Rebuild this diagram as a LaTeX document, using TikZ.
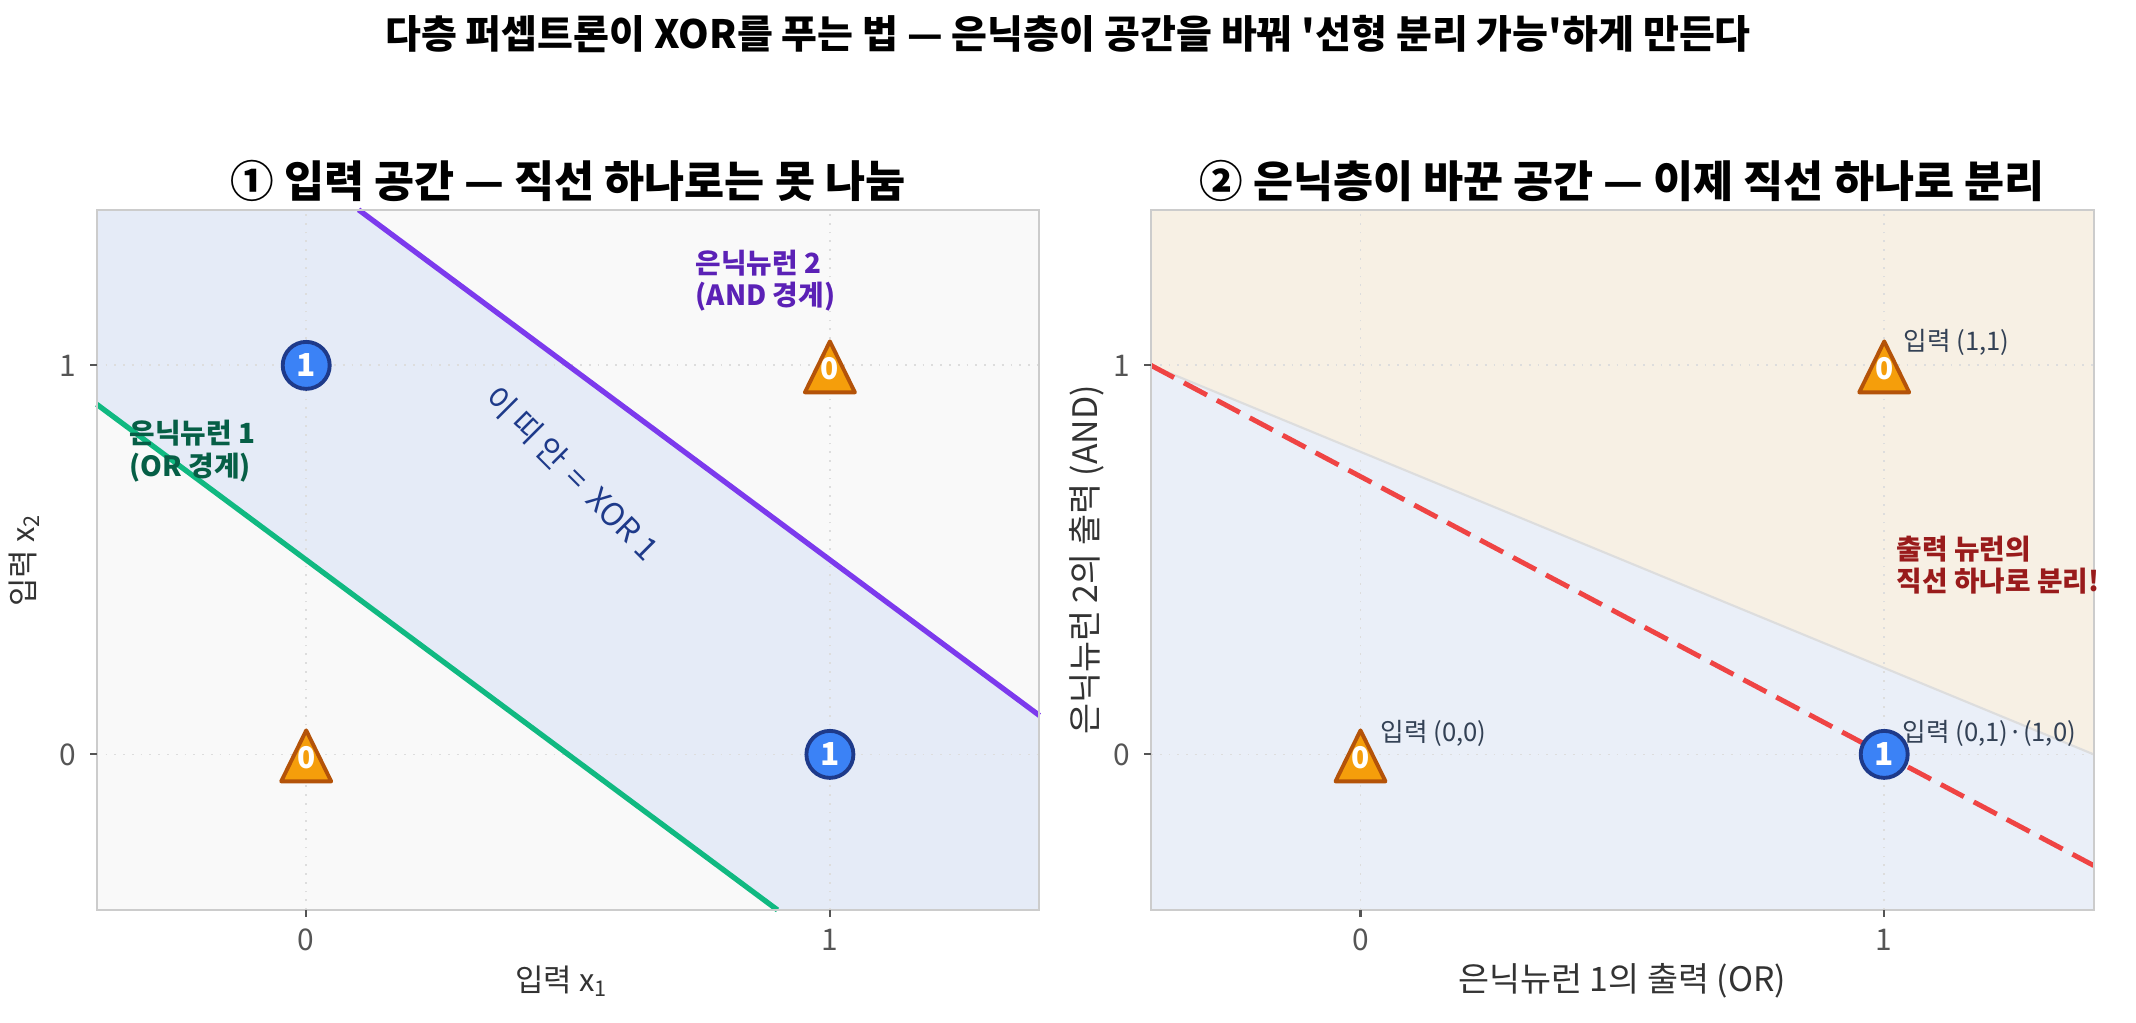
\documentclass[tikz,border=0pt]{standalone}
\usepackage{fontspec}
\setmainfont{Noto Sans CJK KR}[Ligatures=TeXOff]
\usetikzlibrary{calc}
\definecolor{bggray}{HTML}{F9F9F9}
\definecolor{bandblue}{HTML}{E5EBF7}
\definecolor{beige}{HTML}{F7F0E4}
\definecolor{lowblue}{HTML}{EAEFF8}
\definecolor{purpleline}{HTML}{7C3AED}
\definecolor{greenline}{HTML}{10B981}
\definecolor{greentext}{HTML}{065F46}
\definecolor{purpletext}{HTML}{5B21B6}
\definecolor{xortext}{HTML}{1E3A8A}
\definecolor{redline}{HTML}{EF4444}
\definecolor{redtext}{HTML}{991B1B}
\definecolor{cfill}{HTML}{3B82F6}
\definecolor{cstroke}{HTML}{1E3A8A}
\definecolor{tfill}{HTML}{F59E0B}
\definecolor{tstroke}{HTML}{B45309}
\definecolor{framegray}{HTML}{CCCCCC}
\definecolor{gridgray}{HTML}{DDDDDD}
\definecolor{ticktext}{HTML}{555555}
\definecolor{labeltext}{HTML}{333333}
\definecolor{ptlabtext}{HTML}{334155}
\tikzset{
  gridline/.style={gridgray, line width=0.5pt, dotted},
  frameline/.style={framegray, line width=0.6pt},
  tickmark/.style={ticktext, line width=0.6pt},
  ticklab/.style={ticktext, font=\fontsize{8.5}{9}\selectfont, inner sep=0pt},
  axlab/.style={labeltext, font=\fontsize{9.6}{11}\selectfont, inner sep=0pt},
  axlabs/.style={labeltext, font=\fontsize{8.8}{10}\selectfont, inner sep=0pt},
  ptitle/.style={font=\fontsize{12.4}{14}\selectfont\bfseries, inner sep=0pt},
  orline/.style={greenline, line width=1.5pt},
  andline/.style={purpleline, line width=1.5pt},
  sepline/.style={redline, line width=1.4pt, dash pattern=on 7.4pt off 3.2pt},
  one/.style={circle, fill=cfill, draw=cstroke, line width=1.1pt, minimum size=0.47cm, inner sep=0pt,
    text=white, font=\fontsize{9}{10}\selectfont\bfseries},
  zero/.style={inner sep=0pt, text=white, font=\fontsize{8.5}{10}\selectfont\bfseries, yshift=-0.03cm},
  tri/.pic={\draw[fill=tfill, draw=tstroke, line width=1.1pt, line join=round]
      (0cm,0.24cm) -- (0.25cm,-0.27cm) -- (-0.25cm,-0.27cm) -- cycle;},
  annot/.style={font=\fontsize{7.9}{9.2}\selectfont\bfseries, align=left, anchor=west, inner sep=0pt},
  ptlab/.style={ptlabtext, font=\fontsize{7.3}{9}\selectfont, anchor=west, inner sep=0pt},
}
\begin{document}
\begin{tikzpicture}
\useasboundingbox[fill=white] (0,0) rectangle (21.36,10.23);

\node[font=\fontsize{11.1}{13}\selectfont\bfseries, inner sep=0pt] (title) at (10.68,9.89)
  {다층 퍼셉트론이 XOR를 푸는 법 — 은닉층이 공간을 바꿔 '선형 분리 가능'하게 만든다};

% ---------------- Left panel ----------------
\begin{scope}[shift={(3.062,2.686)}, x=5.237cm, y=3.89cm]
  \fill[bggray] (-0.4,-0.4) rectangle (1.4,1.4);
  \fill[bandblue] (-0.4,0.9) -- (0.9,-0.4) -- (1.4,-0.4) -- (1.4,0.1) -- (0.1,1.4) -- (-0.4,1.4) -- cycle;
  \foreach \v in {0,1} {
    \draw[gridline] (\v,-0.4) -- (\v,1.4);
    \draw[gridline] (-0.4,\v) -- (1.4,\v);
  }
  \coordinate (g1) at (-0.4,0.9);
  \coordinate (g2) at (0.9,-0.4);
  \coordinate (p1) at (0.1,1.4);
  \coordinate (p2) at (1.4,0.1);
  \draw[orline] (g1) -- (g2);
  \draw[andline] (p1) -- (p2);
  \draw[frameline] (-0.4,-0.4) rectangle (1.4,1.4);
  \foreach \v in {0,1} {
    \draw[tickmark] (\v,-0.4) -- ++(0cm,-0.07cm);
    \draw[tickmark] (-0.4,\v) -- ++(-0.07cm,0cm);
    \node[ticklab] (lxt\v) at ($(\v,-0.4)+(0cm,-0.30cm)$) {\v};
    \node[ticklab] (lyt\v) at ($(-0.4,\v)+(-0.29cm,0cm)$) {\v};
  }
  \pic at (0,0) {tri};
  \node[zero] (a00) at (0,0) {0};
  \pic at (1,1) {tri};
  \node[zero] (a11) at (1,1) {0};
  \node[one] (a01) at (0,1) {1};
  \node[one] (a10) at (1,0) {1};
\end{scope}

\node[ptitle] (t1) at (5.68,8.42) {① 입력 공간 — 직선 하나로는 못 나눔};
\node[axlabs] (xl1) at (5.62,0.42) {입력 x\textsubscript{1}};
\node[axlabs, rotate=90] (yl1) at (0.245,4.63) {입력 x\textsubscript{2}};
\node[annot, text=greentext] (orlab) at (1.29,5.72) {은닉뉴런 1\\(OR 경계)};
\node[annot, text=purpletext] (andlab) at (6.95,7.42) {은닉뉴런 2\\(AND 경계)};
\node[xortext, font=\fontsize{9}{10}\selectfont, rotate=-45, inner sep=0pt] (xorlab) at (5.72,5.50) {이 띠 안 \,=\, XOR 1};

% ---------------- Right panel ----------------
\begin{scope}[shift={(13.605,2.686)}, x=5.237cm, y=3.89cm]
  \fill[beige] (-0.4,1.0) -- (1.4,0) -- (1.4,1.4) -- (-0.4,1.4) -- cycle;
  \fill[lowblue] (-0.4,-0.4) -- (1.4,-0.4) -- (1.4,0) -- (-0.4,1.0) -- cycle;
  \coordinate (b1) at (-0.4,1.0);
  \coordinate (b2) at (1.4,0);
  \draw[gridgray, line width=0.6pt] (b1) -- (b2);
  \foreach \v in {0,1} {
    \draw[gridline] (\v,-0.4) -- (\v,1.4);
    \draw[gridline] (-0.4,\v) -- (1.4,\v);
  }
  \coordinate (r1) at (-0.4,1.0);
  \coordinate (r2) at (1.4,-0.2857);
  \draw[sepline] (r1) -- (r2);
  \draw[frameline] (-0.4,-0.4) rectangle (1.4,1.4);
  \foreach \v in {0,1} {
    \draw[tickmark] (\v,-0.4) -- ++(0cm,-0.07cm);
    \draw[tickmark] (-0.4,\v) -- ++(-0.07cm,0cm);
    \node[ticklab] (rxt\v) at ($(\v,-0.4)+(0cm,-0.30cm)$) {\v};
    \node[ticklab] (ryt\v) at ($(-0.4,\v)+(-0.29cm,0cm)$) {\v};
  }
  \pic at (0,0) {tri};
  \node[zero] (h00) at (0,0) {0};
  \pic at (1,1) {tri};
  \node[zero] (h11) at (1,1) {0};
  \node[one] (h10) at (1,0) {1};
\end{scope}

\node[ptitle] (t2) at (16.22,8.42) {② 은닉층이 바꾼 공간 — 이제 직선 하나로 분리};
\node[axlab] (xl2) at (16.22,0.42) {은닉뉴런 1의 출력 (OR)};
\node[axlab, rotate=90] (yl2) at (10.87,4.63) {은닉뉴런 2의 출력 (AND)};
\node[ptlab] (l11) at (19.03,6.81) {입력 (1,1)};
\node[ptlab] (l00) at (13.80,2.90) {입력 (0,0)};
\node[ptlab] (l10) at (19.02,2.90) {입력 (0,1)·(1,0)};
\node[annot, text=redtext] (sepl) at (18.96,4.58) {출력 뉴런의\\직선 하나로 분리!};
\end{tikzpicture}
\end{document}
